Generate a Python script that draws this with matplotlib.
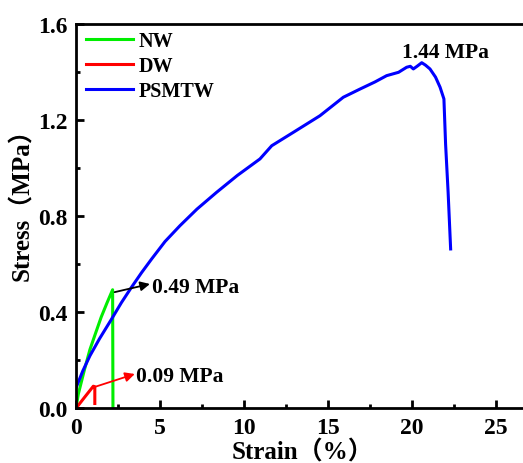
import matplotlib
matplotlib.use("Agg")
import matplotlib.pyplot as plt
from matplotlib.ticker import MultipleLocator, FormatStrFormatter

plt.rcParams['font.family'] = ['Liberation Serif', 'Noto Sans CJK SC']
plt.rcParams['font.weight'] = 'bold'

# Stress-strain curves
nw_strain = [0.0, 0.14, 0.5, 0.83, 1.2, 1.5, 1.85, 2.18, 2.2]
nw_stress = [0.0, 0.06, 0.16, 0.245, 0.32, 0.38, 0.44, 0.494, 0.0]

dw_strain = [0.0, 0.5, 1.03, 1.12, 1.12]
dw_stress = [0.0, 0.045, 0.092, 0.09, 0.02]

psmtw_strain = [0.0, 0.4, 0.83, 1.4, 2.12, 2.7, 3.3, 3.9, 4.5, 5.3, 6.19,
                7.2, 8.37, 9.6, 10.95, 11.65, 12.94, 14.52, 15.91, 16.9, 17.8,
                18.49, 19.2, 19.68, 19.9, 20.08, 20.3, 20.58, 20.8, 21.07,
                21.4, 21.67, 21.9, 22.0, 22.15, 22.3]
psmtw_stress = [0.085, 0.155, 0.219, 0.29, 0.372, 0.44, 0.504, 0.565, 0.622,
                0.695, 0.761, 0.83, 0.9, 0.97, 1.039, 1.094, 1.15, 1.219, 1.296,
                1.33, 1.36, 1.386, 1.40, 1.421, 1.425, 1.414, 1.425, 1.44, 1.43,
                1.414, 1.38, 1.338, 1.289, 1.1, 0.9, 0.664]

fig = plt.figure(figsize=(5.23, 4.64), dpi=100)
ax = fig.add_axes([76 / 523, 54.7 / 464, 453.6 / 523, 384 / 464])

ax.plot(nw_strain, nw_stress, color='#00ee00', lw=2.2, label='NW')
ax.plot(dw_strain, dw_stress, color='#ff0000', lw=2.2, label='DW')
ax.plot(psmtw_strain, psmtw_stress, color='#0000ff', lw=2.2, label='PSMTW')

ax.set_xlim(0, 27)
ax.set_ylim(0, 1.6)
ax.xaxis.set_major_locator(MultipleLocator(5))
ax.xaxis.set_minor_locator(MultipleLocator(2.5))
ax.yaxis.set_major_locator(MultipleLocator(0.4))
ax.yaxis.set_minor_locator(MultipleLocator(0.2))
ax.xaxis.set_major_formatter(FormatStrFormatter('%d'))
ax.yaxis.set_major_formatter(FormatStrFormatter('%.1f'))
ax.tick_params(which='both', direction='in', width=2, labelsize=17)
ax.tick_params(which='major', length=6)
ax.tick_params(which='minor', length=3)
ax.tick_params(axis='x', pad=6)
ax.tick_params(axis='y', pad=6)
for lbl in ax.get_xticklabels() + ax.get_yticklabels():
    lbl.set_fontweight('bold')
for s in ax.spines.values():
    s.set_linewidth(2)

ax.set_xlabel('Strain（%）', fontsize=18, fontweight='bold', labelpad=1)
ax.set_ylabel('Stress（MPa）', fontsize=18, fontweight='bold', labelpad=3)
ax.yaxis.label.set_y(0.548)

leg = ax.legend(loc='upper left', bbox_to_anchor=(0.014, 0.992), frameon=False,
                prop={'size': 14.5, 'weight': 'bold'},
                handlelength=2.3, borderaxespad=0.0, labelspacing=0.25,
                handletextpad=0.3, borderpad=0.2)

ax.annotate('', xy=(4.4, 0.518), xytext=(2.3, 0.484),
            arrowprops=dict(arrowstyle='-|>', color='black', lw=1.3, mutation_scale=14,
                            shrinkA=0, shrinkB=0))
ax.text(4.5, 0.505, '0.49 MPa', fontsize=15.5, fontweight='bold', va='center', ha='left')
ax.annotate('', xy=(3.5, 0.143), xytext=(1.07, 0.088),
            arrowprops=dict(arrowstyle='-|>', color='red', lw=1.3, mutation_scale=14,
                            shrinkA=0, shrinkB=0))
ax.text(3.6, 0.135, '0.09 MPa', fontsize=15.5, fontweight='bold', va='center', ha='left')
ax.text(22.0, 1.485, '1.44 MPa', fontsize=15.5, fontweight='bold', ha='center', va='center')

fig.savefig('out.png', dpi=100)
